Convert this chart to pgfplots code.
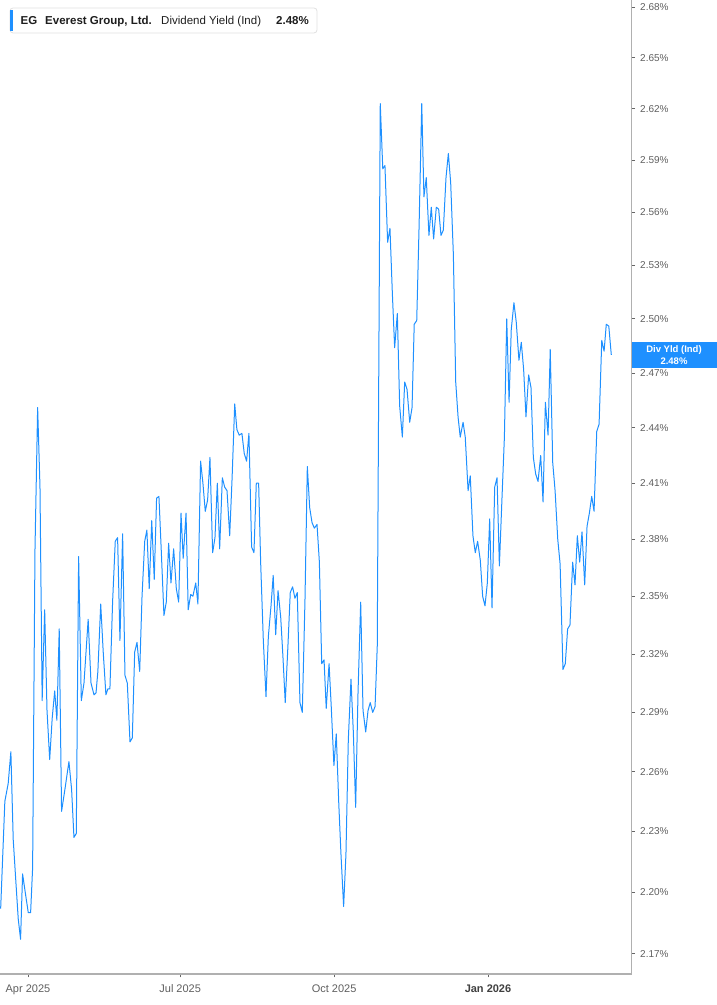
\documentclass[border=0pt]{standalone}
\usepackage{fontspec}
\setmainfont{Liberation Sans}
\usepackage{pgfplots}
\pgfplotsset{compat=1.18}
\definecolor{lineblue}{RGB}{30,144,255}
\definecolor{axisgray}{RGB}{176,176,176}
\definecolor{labelgray}{RGB}{95,95,95}
\definecolor{darktext}{RGB}{30,30,30}
\pgfplotstableread{
d v
-16.3 2.192
-13.8 2.245
-11.8 2.254
-10.2 2.270
-8.8 2.226
-7.2 2.205
-5.8 2.187
-4.4 2.177
-3.2 2.209
-1.8 2.201
0.2 2.190
1.6 2.190
2.8 2.212
4.2 2.374
5.8 2.451
7.2 2.408
8.5 2.296
10.0 2.343
11.4 2.291
13.0 2.266
14.5 2.287
16.0 2.301
17.3 2.286
18.7 2.333
20.1 2.240
22.1 2.251
24.5 2.265
26.1 2.251
27.5 2.227
28.9 2.229
30.3 2.371
31.9 2.296
33.5 2.305
36.0 2.338
37.7 2.305
39.5 2.299
40.7 2.300
41.8 2.311
43.5 2.346
45.0 2.321
46.6 2.299
47.8 2.302
49.0 2.302
50.6 2.347
52.2 2.379
53.6 2.381
55.0 2.327
56.6 2.383
58.0 2.309
59.4 2.305
61.0 2.275
62.4 2.277
63.8 2.321
65.2 2.326
66.8 2.311
68.2 2.350
69.8 2.379
71.1 2.385
72.5 2.354
74.0 2.390
75.5 2.359
76.9 2.402
78.3 2.403
79.7 2.374
81.3 2.340
82.7 2.347
84.1 2.378
85.5 2.357
87.1 2.375
88.7 2.354
90.1 2.347
91.5 2.394
92.8 2.370
94.5 2.394
95.8 2.343
97.3 2.351
98.6 2.350
100.3 2.357
101.6 2.346
103.2 2.422
104.6 2.410
106.0 2.395
107.4 2.401
108.8 2.424
110.4 2.373
111.8 2.381
113.2 2.410
114.6 2.375
116.2 2.413
117.6 2.408
119.0 2.406
120.6 2.382
122.0 2.412
123.6 2.453
124.9 2.439
126.3 2.436
127.9 2.437
129.3 2.426
130.7 2.422
132.1 2.437
133.7 2.376
135.1 2.373
136.5 2.410
137.9 2.410
139.1 2.368
140.7 2.327
142.3 2.298
143.7 2.329
145.3 2.345
146.6 2.361
148.1 2.330
149.5 2.353
151.1 2.339
152.4 2.319
153.8 2.295
155.4 2.324
156.8 2.352
158.2 2.355
159.6 2.349
161.0 2.352
162.6 2.295
164.0 2.290
165.6 2.348
167.0 2.419
168.4 2.397
169.8 2.389
171.2 2.386
172.8 2.388
174.2 2.368
175.6 2.315
177.0 2.317
178.3 2.292
180.0 2.315
181.3 2.293
182.9 2.263
184.3 2.279
185.8 2.244
187.1 2.219
188.7 2.193
190.1 2.219
191.5 2.276
193.1 2.307
194.5 2.280
195.9 2.242
197.3 2.300
198.9 2.347
200.3 2.291
201.9 2.280
203.3 2.291
204.6 2.295
206.1 2.290
207.5 2.293
208.8 2.324
210.6 2.623
212.1 2.585
213.4 2.587
215.0 2.543
216.4 2.551
217.8 2.515
219.2 2.484
220.8 2.503
222.2 2.452
223.8 2.435
225.2 2.465
226.6 2.461
228.2 2.443
229.6 2.451
230.9 2.497
232.4 2.499
233.8 2.552
235.4 2.623
236.7 2.569
238.1 2.580
239.7 2.547
241.1 2.563
242.5 2.545
244.1 2.563
245.5 2.562
246.9 2.547
248.3 2.550
249.9 2.580
251.3 2.594
252.7 2.577
254.3 2.536
255.7 2.465
257.1 2.446
258.4 2.435
260.1 2.443
261.4 2.435
263.1 2.406
264.4 2.414
266.0 2.382
267.4 2.373
268.8 2.379
270.4 2.369
271.8 2.350
273.2 2.345
274.6 2.357
276.0 2.391
277.4 2.344
279.0 2.408
280.4 2.413
281.8 2.366
283.4 2.403
284.8 2.435
286.2 2.500
287.6 2.454
288.9 2.494
290.5 2.509
291.9 2.498
293.5 2.477
294.9 2.487
296.3 2.472
297.7 2.446
299.3 2.469
300.7 2.462
302.1 2.424
303.5 2.415
304.9 2.411
306.5 2.425
307.9 2.400
309.3 2.454
310.9 2.436
312.2 2.483
313.7 2.421
315.1 2.406
316.7 2.380
318.1 2.367
319.8 2.312
321.2 2.315
322.6 2.333
324.0 2.335
325.6 2.368
327.0 2.356
328.4 2.382
329.8 2.368
331.2 2.384
332.8 2.356
334.2 2.387
335.6 2.394
337.0 2.403
338.4 2.395
340.0 2.438
341.4 2.442
343.0 2.488
344.4 2.482
345.7 2.497
347.2 2.496
348.7 2.480
}\divyield
\begin{document}
\begin{tikzpicture}
\path[use as bounding box] (0bp,-31bp) rectangle (717bp,974bp);
\begin{axis}[
  at={(0bp,0bp)}, anchor=south west,
  scale only axis, width=631.7bp, height=974bp,
  ymode=log, ymin=2.1603, ymax=2.6842,
  xmin=-16.7, xmax=360.9,
  axis x line*=bottom, axis y line*=right,
  axis line style={draw=axisgray, line width=1.4bp},
  tick align=outside, major tick length=3.5bp,
  yminorticks=false, xminorticks=false,
  tick style={draw=black!60, line width=0.8bp},
  ytick={2.17,2.20,2.23,2.26,2.29,2.32,2.35,2.38,2.41,2.44,2.47,2.50,2.53,2.56,2.59,2.62,2.65,2.68},
  yticklabels={2.17\%,2.20\%,2.23\%,2.26\%,2.29\%,2.32\%,2.35\%,2.38\%,2.41\%,2.44\%,2.47\%,2.50\%,2.53\%,2.56\%,2.59\%,2.62\%,2.65\%,2.68\%},
  yticklabel style={font=\fontsize{10bp}{12bp}\selectfont, text=labelgray, anchor=west, xshift=1.5bp},
  xtick={0,91,183,275},
  xticklabels={Apr 2025,Jul 2025,Oct 2025,\textbf{\textcolor{black!75}{Jan 2026}}},
  xticklabel style={font=\fontsize{11bp}{13bp}\selectfont, text=labelgray, yshift=-3.5bp},
]
\addplot[color=lineblue, line width=1bp, line join=round] table[x=d,y=v] {\divyield};
\end{axis}
% legend box
\draw[draw=black!12, fill=white, rounded corners=3bp, line width=0.8bp] (10bp,941bp) rectangle (317bp,966bp);
\draw[lineblue, line width=3bp] (11.5bp,943bp) -- (11.5bp,964bp);
\begin{scope}[every node/.style={anchor=base west, inner sep=0pt, text=darktext, font=\fontsize{11.5bp}{13bp}\selectfont}]
\node at (20.5bp,949bp) {\textbf{EG}};
\node at (45bp,949bp) {\textbf{Everest Group, Ltd.}};
\node at (161bp,949bp) {Dividend Yield (Ind)};
\node at (276bp,949bp) {\textbf{2.48\%}};
\end{scope}
% last value label
\fill[lineblue] (631.7bp,606.3bp) rectangle (717bp,632.3bp);
\node[text=white, font=\bfseries\fontsize{9.5bp}{11bp}\selectfont, inner sep=0pt] at (674bp,624bp) {Div Yld (Ind)};
\node[text=white, font=\bfseries\fontsize{9.5bp}{11bp}\selectfont, inner sep=0pt] at (674bp,613bp) {2.48\%};
\end{tikzpicture}
\end{document}
